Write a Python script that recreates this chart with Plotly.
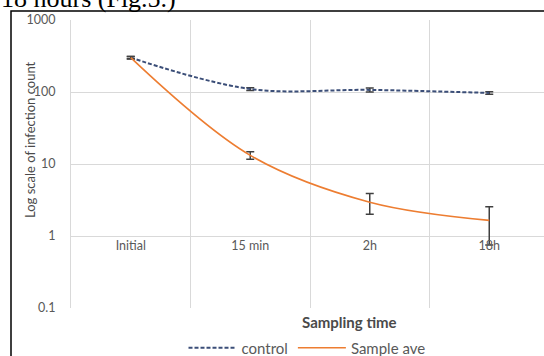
import plotly.graph_objects as go

categories = ["Initial", "15 min", "2h", "18h"]
control = [300, 110, 107, 97]
control_err = [12, 5, 7, 4]
sample_ave = [300, 13.2, 2.95, 1.65]
sample_err = [10, 1.6, 0.95, 0.9]
y_ticks = [0.1, 1, 10, 100, 1000]
y_tick_text = ["0.1", "1", "10", "100", "1000"]

W, H = 544, 356
L, R, T, B = 71, 0, 20, 48
pw, ph = W - L - R, H - T - B

def px(x):
    return (x - L) / pw

def py(y):
    return (H - B - y) / ph

GRAY = "#595959"
FONT = "Lato"

fig = go.Figure()
fig.add_trace(go.Scatter(
    x=categories, y=control, name="control", mode="lines",
    line=dict(color="#3B4E78", width=2, dash="4px,2px", shape="spline"),
    error_y=dict(type="data", array=control_err, color="#404040", thickness=1.5, width=4),
))
fig.add_trace(go.Scatter(
    x=categories, y=sample_ave, name="Sample ave", mode="lines",
    line=dict(color="#ED7D31", width=1.6, shape="spline"),
    error_y=dict(type="data", array=sample_err, color="#404040", thickness=1.5, width=4),
))

fig.update_layout(
    width=W, height=H,
    margin=dict(l=L, r=R, t=T, b=B, autoexpand=False),
    paper_bgcolor="white", plot_bgcolor="white",
    font=dict(family=FONT, size=12, color=GRAY),
    showlegend=True,
    legend=dict(orientation="h", x=px(307), xanchor="center", y=py(348), yanchor="middle",
                itemwidth=48,
                font=dict(family=FONT, size=15, color=GRAY), bgcolor="rgba(0,0,0,0)"),
    xaxis=dict(
        type="category", range=[-0.5, (W - L) / 119.5 - 0.5],
        tickson="boundaries", ticks="", showgrid=True, gridcolor="#D9D9D9", gridwidth=1,
        showline=False, zeroline=False, anchor="free", position=py(236), automargin=False,
        tickfont=dict(family=FONT, size=12.5, color=GRAY),
    ),
    yaxis=dict(
        type="log", range=[-1, 3], tickvals=y_ticks, ticktext=y_tick_text,
        showgrid=True, gridcolor="#D9D9D9", gridwidth=1, zeroline=False,
        showline=True, linecolor="#D9D9D9", linewidth=1,
        ticks="", ticklabelstandoff=12, automargin=False,
        tickfont=dict(family=FONT, size=12.5, color=GRAY),
    ),
)

fig.add_annotation(text="Log scale of infection count", xref="paper", yref="paper",
                   x=px(30), y=py(140), xanchor="center", yanchor="middle", textangle=-90,
                   showarrow=False, font=dict(family=FONT, size=13, color="#4a4a4a"))
fig.add_annotation(text="<b>Sampling time</b>", xref="paper", yref="paper",
                   x=px(349), y=py(322), xanchor="center", yanchor="middle",
                   showarrow=False, font=dict(family=FONT, size=15, color="#4a4a4a"))
fig.add_annotation(text="18 hours (Fig.5.)", xref="paper", yref="paper",
                   x=px(-1), y=py(-2), xanchor="left", yanchor="middle",
                   showarrow=False, font=dict(family="Liberation Serif", size=26, color="black"))
fig.add_shape(type="rect", xref="paper", yref="paper",
              x0=px(11), y0=py(370), x1=px(560), y1=py(11),
              line=dict(color="black", width=1.5), fillcolor="rgba(0,0,0,0)", layer="above")

fig.write_html("out.html", config={"displayModeBar": False},
               post_script="document.body.style.margin='0';document.body.style.overflow='hidden';")
